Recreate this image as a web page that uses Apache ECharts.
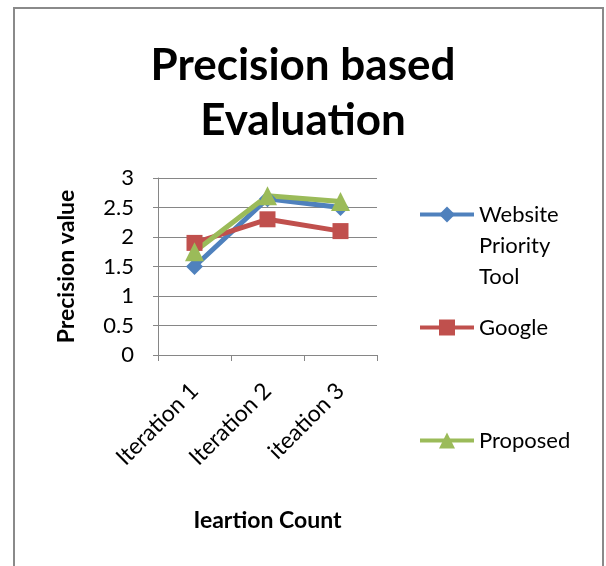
<!DOCTYPE html>
<html>
<head>
<meta charset="utf-8">
<script src="https://cdn.jsdelivr.net/npm/echarts@6/dist/echarts.min.js"></script>
<style>
  html, body { margin: 0; padding: 0; background: #fff; }
  #main { width: 606px; height: 566px; }
</style>
</head>
<body>
<div id="main"></div>
<script>
    // data
    var categories = ['Iteration 1', 'Iteration 2', 'iteation 3'];
    var websiteData = [1.5, 2.65, 2.5];
    var googleData = [1.9, 2.3, 2.1];
    var proposedData = [1.75, 2.7, 2.6];
    var seriesNames = ['Website Priority Tool', 'Google', 'Proposed'];

    var fontName = 'Lato, "Open Sans", sans-serif';
    var gridColor = '#868686';

    var chart = echarts.init(document.getElementById('main'));

    // one legend per item so each can sit where the reference has it
    function legendFor(name, top) {
        return {
            data: [name],
            left: 418,
            top: top,
            padding: 0,
            orient: 'vertical',
            itemWidth: 54,
            itemHeight: 20,
            itemGap: 0,
            lineStyle: { width: 4 },
            formatter: function (n) {
                // two empty lines on top keep "Website" level with the icon
                return n === 'Website Priority Tool' ? '\n\nWebsite\nPriority\nTool' : n;
            },
            textStyle: {
                color: '#000',
                fontSize: 22,
                fontFamily: fontName,
                lineHeight: 31
            }
        };
    }

    chart.setOption({
        backgroundColor: '#fff',
        title: {
            text: 'Precision based\nEvaluation',
            left: 'center',
            top: 33,
            textStyle: {
                color: '#000',
                fontSize: 44,
                fontWeight: 'bold',
                fontFamily: fontName,
                lineHeight: 55
            }
        },
        graphic: [{
            type: 'rect',
            shape: { x: 14, y: 8, width: 589, height: 575 },
            style: { fill: null, stroke: '#8a8a8a', lineWidth: 2 },
            silent: true
        }],
        legend: [
            legendFor(seriesNames[0], 137),
            legendFor(seriesNames[1], 312),
            legendFor(seriesNames[2], 425)
        ],
        grid: {
            left: 158,
            right: 229,
            top: 178,
            bottom: 211
        },
        xAxis: {
            type: 'category',
            data: categories,
            boundaryGap: true,
            name: 'Ieartion Count',
            nameLocation: 'middle',
            nameGap: 154,
            nameTextStyle: {
                color: '#000',
                fontSize: 23,
                fontWeight: 'bold',
                fontFamily: fontName
            },
            axisLine: { show: true, lineStyle: { color: gridColor, width: 1 } },
            axisTick: { show: true, length: 6, lineStyle: { color: gridColor } },
            axisLabel: {
                rotate: 45,
                margin: 32,
                color: '#000',
                fontSize: 23,
                fontFamily: fontName,
                interval: 0
            },
            splitLine: { show: false }
        },
        yAxis: {
            type: 'value',
            min: 0,
            max: 3,
            interval: 0.5,
            name: 'Precision value',
            nameLocation: 'middle',
            nameGap: 80,
            nameTextStyle: {
                color: '#000',
                fontSize: 23,
                fontWeight: 'bold',
                fontFamily: fontName
            },
            axisLine: { show: true, lineStyle: { color: gridColor, width: 1 } },
            axisTick: { show: true, length: 5, lineStyle: { color: gridColor } },
            axisLabel: {
                margin: 24,
                color: '#000',
                fontSize: 22,
                fontFamily: fontName
            },
            splitLine: { show: true, lineStyle: { color: gridColor, width: 1 } }
        },
        series: [
            {
                name: seriesNames[0],
                type: 'line',
                data: websiteData,
                symbol: 'diamond',
                symbolSize: 17,
                color: '#4F81BD',
                lineStyle: { width: 5, color: '#4F81BD' },
                itemStyle: { color: '#4F81BD' }
            },
            {
                name: seriesNames[1],
                type: 'line',
                data: googleData,
                symbol: 'rect',
                symbolSize: 16,
                color: '#C0504D',
                lineStyle: { width: 5, color: '#C0504D' },
                itemStyle: { color: '#C0504D' }
            },
            {
                name: seriesNames[2],
                type: 'line',
                data: proposedData,
                symbol: 'triangle',
                symbolSize: 19,
                color: '#9BBB59',
                lineStyle: { width: 5, color: '#9BBB59' },
                itemStyle: { color: '#9BBB59' }
            }
        ]
    });
</script>
</body>
</html>
